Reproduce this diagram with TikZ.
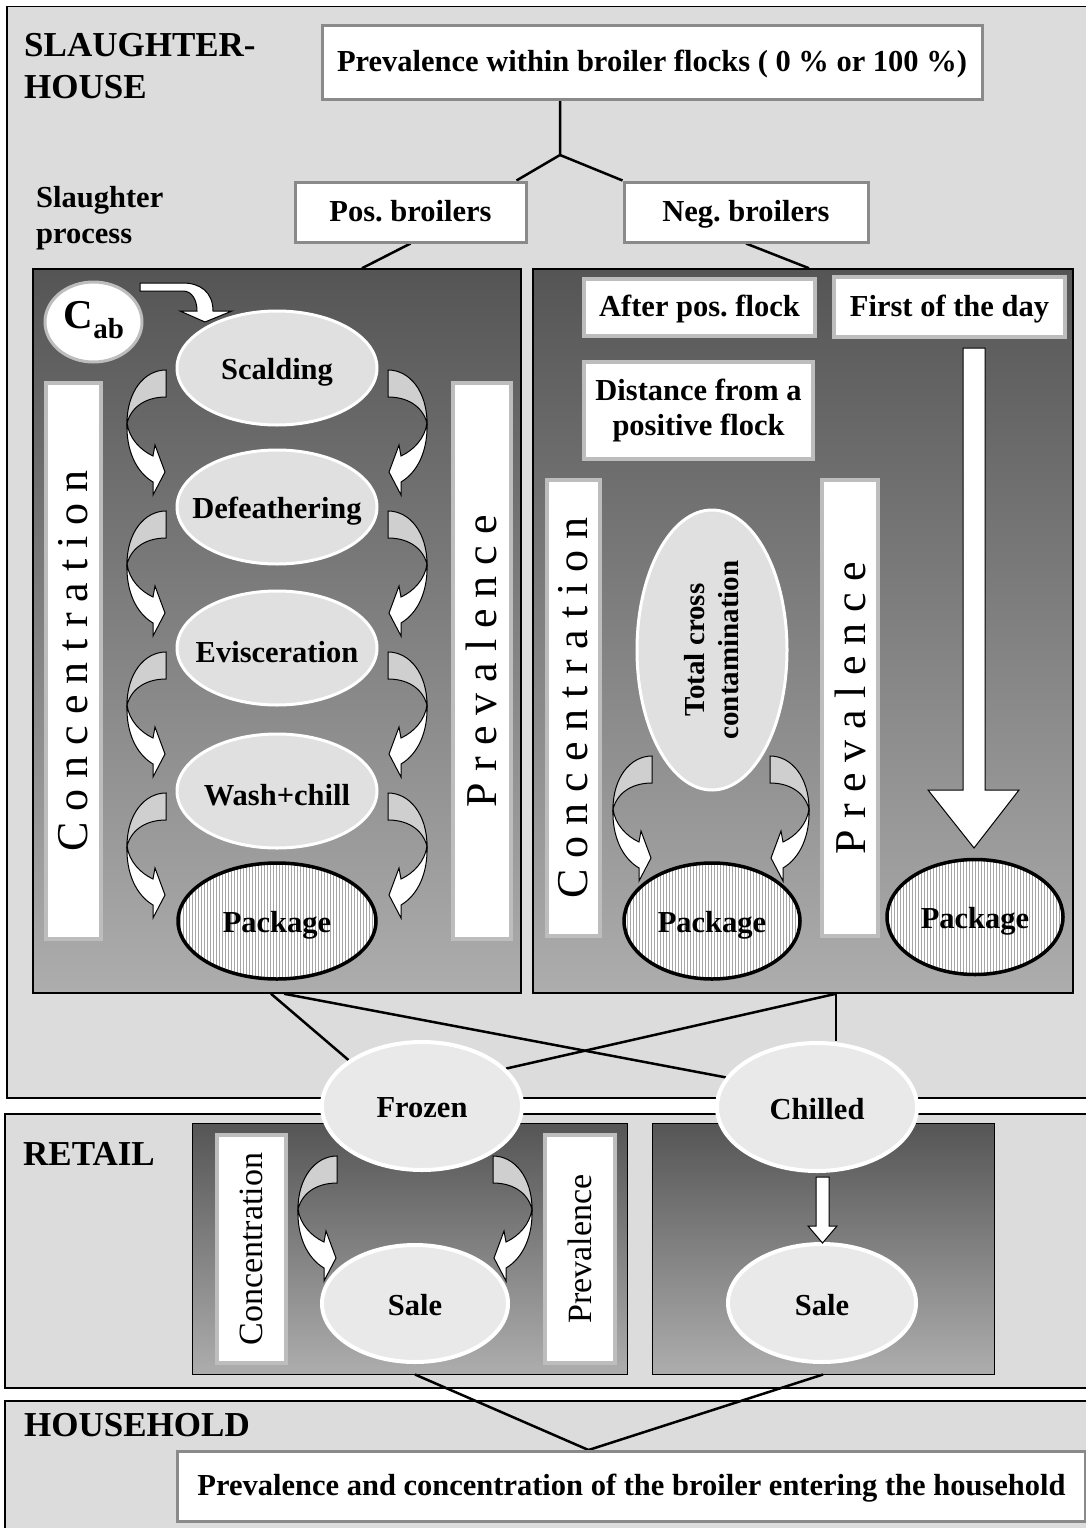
\documentclass[tikz,border=0pt]{standalone}
\usepackage{fontspec}
\setmainfont{Liberation Serif}
\usetikzlibrary{shapes.geometric,patterns,calc}
\pgfdeclarelayer{bg}
\pgfdeclarelayer{lines}
\pgfsetlayers{bg,lines,main}
\frenchspacing
\definecolor{boxgray}{HTML}{DCDCDC}
\definecolor{paneltop}{HTML}{555555}
\definecolor{panelbot}{HTML}{ADADAD}
\definecolor{ellfill}{HTML}{E0E0E0}
\definecolor{ellfilltwo}{HTML}{E9E9E9}
\definecolor{bordgray}{HTML}{8A8A8A}
\definecolor{lightbord}{HTML}{BDBDBD}
\definecolor{crescent}{HTML}{CFCFCF}
\tikzset{
  lbl/.style={font=\fontsize{30.5}{35}\selectfont\bfseries},
  elbl/.style={lbl, yshift=-4pt},
  oneline/.style={text height=24pt, text depth=6pt},
  seclbl/.style={font=\fontsize{35}{42}\selectfont\bfseries, inner sep=0pt, align=left},
  secbox/.style={draw=black, line width=1.5pt, fill=boxgray, inner sep=0pt},
  panel/.style={draw=black, line width=1.5pt, top color=paneltop, bottom color=panelbot, inner sep=0pt},
  tbox/.style={draw=bordgray, line width=3pt, fill=white, lbl, inner sep=0pt},
  ibox/.style={draw=lightbord, line width=4pt, fill=white, inner sep=0pt},
  rtext/.style={font=\fontsize{44}{44}\selectfont},
  rtextsm/.style={font=\fontsize{34}{34}\selectfont},
  proc/.style={ellipse, fill=ellfill, draw=white, line width=3pt, inner sep=0pt},
  proctwo/.style={ellipse, fill=ellfilltwo, draw=white, line width=4pt, inner sep=0pt},
  pack/.style={ellipse, preaction={fill=white}, pattern=vertical lines, pattern color=gray!70, draw=black, line width=3.5pt, inner sep=0pt},
  conn/.style={draw=black, line width=2.5pt},
  blockarrow/.style={draw=black, line width=1pt, fill=white},
  carrow/.pic={
    \draw[black, line width=1pt, fill=crescent] (0,0) .. controls (-22,0) and (-39,22) .. (-39,53) .. controls (-34,35) and (-18,27) .. (0,27) -- cycle;
    \draw[black, line width=1pt, fill=white] (-39,53) .. controls (-40,80) and (-30,102) .. (-13,112) -- (-13,125) -- (-1,102) -- (-11,75) -- (-13,86) .. controls (-26,80) and (-37,68) .. (-39,53) -- cycle;
  }
}
\begin{document}
\begin{tikzpicture}[x=1pt,y=-1pt]
\useasboundingbox (0,0) rectangle (1085,1528);
\begin{pgfonlayer}{bg}
\fill[white] (0,0) rectangle (1085,1528);
\node[secbox, anchor=north west, minimum width=1090, minimum height=1091] (sh) at (6,6) {};
\node[secbox, anchor=north west, minimum width=1090, minimum height=274] (rt) at (4,1113) {};
\node[secbox, anchor=north west, minimum width=1090, minimum height=140] (hh) at (4,1400) {};
\node[panel, minimum width=488, minimum height=724] (lp) at (277,631) {};
\node[panel, minimum width=540, minimum height=724] (rp) at (803,631) {};
\node[panel, line width=1pt, minimum width=435, minimum height=251] (rtl) at (409.5,1248.5) {};
\node[panel, line width=1pt, minimum width=342, minimum height=251] (rtr) at (823,1248.5) {};
\end{pgfonlayer}

% section labels
\node[seclbl, anchor=north west] (shl) at (24,33) {SLAUGHTER-\\HOUSE};
\node[seclbl, anchor=north west] (rtlbl) at (23,1142) {RETAIL};
\node[seclbl, anchor=north west] (hhlbl) at (24,1413) {HOUSEHOLD};
\node[anchor=north west, inner sep=0pt, align=left, font=\fontsize{30.5}{36}\selectfont\bfseries] (spl) at (36,186) {Slaughter\\process};

% top boxes
\node[tbox, oneline, minimum width=660, minimum height=73] (prev) at (652,62.5) {Prevalence within broiler flocks ( 0 \% or 100 \%)};
\node[tbox, oneline, minimum width=231, minimum height=60] (pos) at (410.5,212) {Pos. broilers};
\node[tbox, oneline, minimum width=244, minimum height=60] (neg) at (746,212) {Neg. broilers};

% left panel
\node[ellipse, fill=white, draw=lightbord, line width=3pt, minimum width=97, minimum height=80, inner sep=0pt] (cab) at (93.5,322) {};
\node[inner sep=0pt] (cabT) at (94,320) {\fontsize{41}{41}\selectfont\bfseries C\raisebox{-10pt}{\fontsize{29}{29}\selectfont\bfseries ab}};
\draw[blockarrow] (140,283) -- (183,283) .. controls (200,283) and (213,292) .. (213,311) -- (232,311) -- (205,322) -- (180,311) -- (197,311) .. controls (197,300) and (192,291) .. (183,291) -- (140,291) -- cycle;
\node[ibox, rtext, rotate=90, minimum width=556, minimum height=55] (lconc) at (73.5,661) {C o n c e n t r a t i o n};
\node[ibox, rtext, rotate=90, minimum width=556, minimum height=58] (lprev) at (481.5,661) {P r e v a l e n c e};
\node[proc, minimum width=200, minimum height=114] (scald) at (277,368) {};
\node[elbl] (scaldT) at (scald) {Scalding};
\node[proc, minimum width=200, minimum height=114] (defeath) at (277,507) {};
\node[elbl] (defeathT) at (defeath) {Defeathering};
\node[proc, minimum width=200, minimum height=114] (evisc) at (277,648) {};
\node[elbl] (eviscT) at (evisc) {Evisceration};
\node[proc, minimum width=200, minimum height=114] (wash) at (277,791) {};
\node[elbl] (washT) at (wash) {Wash+chill};
\node[pack, minimum width=198, minimum height=116] (packL) at (277,921) {};
\node[elbl] (packLT) at (packL) {Package};
\foreach \yy in {370,511,652,793}{
  \pic at (166,\yy) {carrow};
  \pic[xscale=-1] at (388,\yy) {carrow};
}

% right panel
\node[ibox, lbl, oneline, minimum width=231, minimum height=57] (after) at (699.5,307.5) {After pos. flock};
\node[ibox, lbl, oneline, minimum width=231, minimum height=60] (first) at (949.5,307) {First of the day};
\node[ibox, lbl, align=center, minimum width=229, minimum height=97] (dist) at (698.5,410.5) {Distance from a\\positive flock};
\node[ibox, rtext, rotate=90, minimum width=456, minimum height=53] (rconc) at (573.5,708) {C o n c e n t r a t i o n};
\node[ibox, rtext, rotate=90, minimum width=456, minimum height=56] (rprev) at (850,708) {P r e v a l e n c e};
\node[proc, minimum width=150, minimum height=280] (tcc) at (712,650) {};
\node[rotate=90, align=center, inner sep=0pt, font=\fontsize{29}{34}\selectfont\bfseries] (tccT) at (tcc) {Total cross\\contamination};
\node[pack, minimum width=176, minimum height=116] (packM) at (712,921) {};
\node[elbl] (packMT) at (packM) {Package};
\node[pack, minimum width=176, minimum height=115] (packR) at (975,917) {};
\node[elbl] (packRT) at (packR) {Package};
\pic at (652,756) {carrow};
\pic[xscale=-1] at (770,756) {carrow};
\draw[blockarrow] (963,348) -- (985,348) -- (985,790) -- (1019,790) -- (974,848) -- (928,790) -- (963,790) -- cycle;

% frozen / chilled
\node[proctwo, minimum width=200, minimum height=128] (frozen) at (422,1106) {};
\node[elbl, yshift=2pt] (frozenT) at (frozen) {Frozen};
\node[proctwo, minimum width=200, minimum height=128] (chilled) at (817,1107) {};
\node[elbl, yshift=2pt] (chilledT) at (chilled) {Chilled};

% retail
\node[ibox, rtextsm, rotate=90, minimum width=228, minimum height=69] (tconc) at (251.5,1249) {Concentration};
\node[ibox, rtextsm, rotate=90, minimum width=228, minimum height=70] (tprev) at (580,1249) {Prevalence};
\node[proctwo, minimum width=186, minimum height=117] (saleL) at (415,1303.5) {};
\node[elbl, yshift=2pt] (saleLT) at (saleL) {Sale};
\node[proctwo, minimum width=188, minimum height=118] (saleR) at (822,1303) {};
\node[elbl, yshift=2pt] (saleRT) at (saleR) {Sale};
\pic at (337,1156) {carrow};
\pic[xscale=-1] at (493,1156) {carrow};
\draw[blockarrow] (816,1177) -- (829,1177) -- (829,1226) -- (837,1226) -- (822.5,1243) -- (808,1226) -- (816,1226) -- cycle;

% household
\node[tbox, oneline, anchor=north west, minimum width=908, minimum height=70] (hhbox) at (176,1450) {Prevalence and concentration of the broiler entering the household};

% connectors
\begin{pgfonlayer}{lines}
\coordinate (split) at (560,155);
\draw[conn] (prev.south -| split) -- (split) -- ([xshift=-11pt]pos.north east);
\draw[conn] (split) -- (neg.north west);
\draw[conn] (pos.south) -- ([xshift=85pt]lp.north);
\draw[conn] (neg.south) -- ([xshift=6pt]rp.north);
\coordinate (lpa) at ([xshift=-6pt]lp.south);
\coordinate (lpb) at ([xshift=7pt]lp.south);
\coordinate (rpa) at ([xshift=33pt]rp.south);
\draw[conn] (lpa) -- (frozen.148);
\draw[conn] (lpb) -- (chilled.162);
\draw[conn] (rpa) -- (frozen.24);
\draw[conn] (rpa) -- (rpa |- chilled.north);
\coordinate (hhtop) at ([xshift=-43pt]hhbox.north);
\draw[conn] (saleL |- rtl.south) -- (hhtop);
\draw[conn] (rtr.south) -- (hhtop);
\end{pgfonlayer}
\end{tikzpicture}
\end{document}
